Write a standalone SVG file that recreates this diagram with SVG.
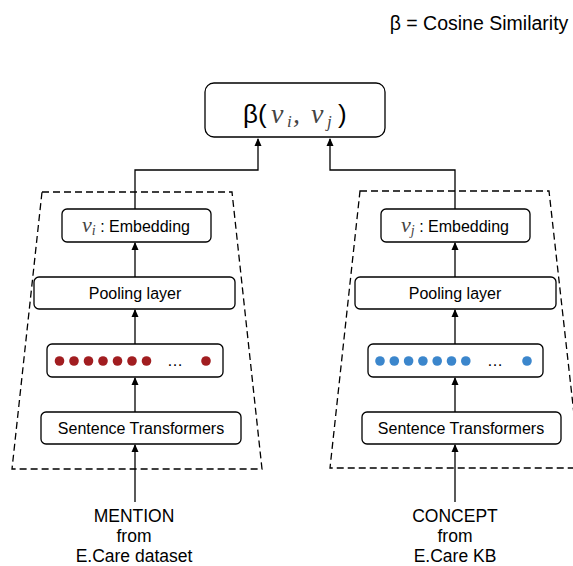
<svg xmlns="http://www.w3.org/2000/svg" width="573" height="566" viewBox="0 0 573 566">
<defs>
<marker id="ah" markerWidth="8" markerHeight="10" refX="7" refY="5" orient="auto" markerUnits="userSpaceOnUse">
<path d="M0,1.5 L8,5 L0,8.5 Z" fill="#000"/>
</marker>
<style>
.box{fill:#fff;stroke:#000;stroke-width:1.3}
.trap{fill:none;stroke:#000;stroke-width:1.3;stroke-dasharray:7,4}
.c{fill:none;stroke:#000;stroke-width:1.3}
.t{font-family:"Liberation Sans",Arial,sans-serif;fill:#000;text-anchor:middle}
.s{font-family:"Liberation Sans",Arial,sans-serif;fill:#000}
.m{font-family:"Liberation Serif","DejaVu Serif",serif;font-style:italic;fill:#444}
.red{fill:#a11d20}
.blue{fill:#3b86cc}
</style>
</defs>
<text class="t" x="479" y="30" font-size="19.5">β = Cosine Similarity</text>

<g id="trapezoid-left"><polygon class="trap" points="42,192 232,192 262,469 12,469"/></g>
<g id="trapezoid-right"><polygon class="trap" points="360,191 549,191 580,468 330,468"/></g>

<g id="connectors">
<path class="c" d="M135,209 V170 H258 V139" marker-end="url(#ah)"/>
<path class="c" d="M455,209 V170 H330 V139" marker-end="url(#ah)"/>
<path class="c" d="M135,277 V243" marker-end="url(#ah)"/>
<path class="c" d="M135,344 V310" marker-end="url(#ah)"/>
<path class="c" d="M135,412 V378" marker-end="url(#ah)"/>
<path class="c" d="M135,502 V445" marker-end="url(#ah)"/>
<path class="c" d="M455,277 V243" marker-end="url(#ah)"/>
<path class="c" d="M455,344 V310" marker-end="url(#ah)"/>
<path class="c" d="M455,412 V378" marker-end="url(#ah)"/>
<path class="c" d="M455,502 V445" marker-end="url(#ah)"/>
</g>

<g id="similarity">
<rect class="box" x="205" y="83" width="180" height="54" rx="9"/>
<text class="s" x="243" y="123" font-size="26">β(</text>
<text class="m" x="271" y="123" font-size="28">v</text>
<text class="m" x="287" y="127" font-size="17">i</text>
<text class="m" x="293" y="123" font-size="28">,</text>
<text class="m" x="311" y="123" font-size="28">v</text>
<text class="m" x="327" y="127" font-size="17">j</text>
<text class="s" x="338" y="123" font-size="26">)</text>
</g>

<g id="embedding-left">
<rect class="box" x="62" y="209" width="149" height="33" rx="5"/>
<text x="136" y="232" text-anchor="middle"><tspan class="m" font-size="22">v</tspan><tspan class="m" font-size="14" dy="3">i</tspan><tspan class="s" font-size="16" dy="-3"> : Embedding</tspan></text>
</g>
<g id="pooling-left">
<rect class="box" x="34" y="277" width="201" height="32" rx="5"/>
<text class="t" x="135" y="299" font-size="16">Pooling layer</text>
</g>
<g id="vector-left">
<rect class="box" x="47" y="344" width="176" height="33" rx="5"/>
<g class="red">
<circle cx="59.5" cy="361" r="4.8"/><circle cx="74" cy="361" r="4.8"/><circle cx="88.5" cy="361" r="4.8"/><circle cx="103" cy="361" r="4.8"/><circle cx="117.5" cy="361" r="4.8"/><circle cx="132" cy="361" r="4.8"/><circle cx="146.5" cy="361" r="4.8"/><circle cx="206" cy="361" r="4.8"/>
</g>
<text class="t" x="175" y="366" font-size="16">…</text>
</g>
<g id="st-left">
<rect class="box" x="41" y="412" width="200" height="32" rx="5"/>
<text class="t" x="141" y="434" font-size="16">Sentence Transformers</text>
</g>

<g id="embedding-right">
<rect class="box" x="381" y="209" width="149" height="33" rx="5"/>
<text x="455" y="232" text-anchor="middle"><tspan class="m" font-size="22">v</tspan><tspan class="m" font-size="14" dy="3">j</tspan><tspan class="s" font-size="16" dy="-3"> : Embedding</tspan></text>
</g>
<g id="pooling-right">
<rect class="box" x="355" y="277" width="201" height="32" rx="5"/>
<text class="t" x="455" y="299" font-size="16">Pooling layer</text>
</g>
<g id="vector-right">
<rect class="box" x="368" y="344" width="175" height="33" rx="5"/>
<g class="blue">
<circle cx="380" cy="361" r="4.8"/><circle cx="394.3" cy="361" r="4.8"/><circle cx="408.6" cy="361" r="4.8"/><circle cx="422.9" cy="361" r="4.8"/><circle cx="437.2" cy="361" r="4.8"/><circle cx="451.5" cy="361" r="4.8"/><circle cx="465.8" cy="361" r="4.8"/><circle cx="527" cy="361" r="4.8"/>
</g>
<text class="t" x="495" y="366" font-size="16">…</text>
</g>
<g id="st-right">
<rect class="box" x="362" y="412" width="199" height="32" rx="5"/>
<text class="t" x="461" y="434" font-size="16">Sentence Transformers</text>
</g>

<g id="mention">
<text class="t" x="134" y="522" font-size="17.5">MENTION</text>
<text class="t" x="134" y="542" font-size="17.5">from</text>
<text class="t" x="134" y="562" font-size="17.5">E.Care dataset</text>
</g>
<g id="concept">
<text class="t" x="455" y="522" font-size="17.5">CONCEPT</text>
<text class="t" x="455" y="542" font-size="17.5">from</text>
<text class="t" x="455" y="562" font-size="17.5">E.Care KB</text>
</g>
</svg>
